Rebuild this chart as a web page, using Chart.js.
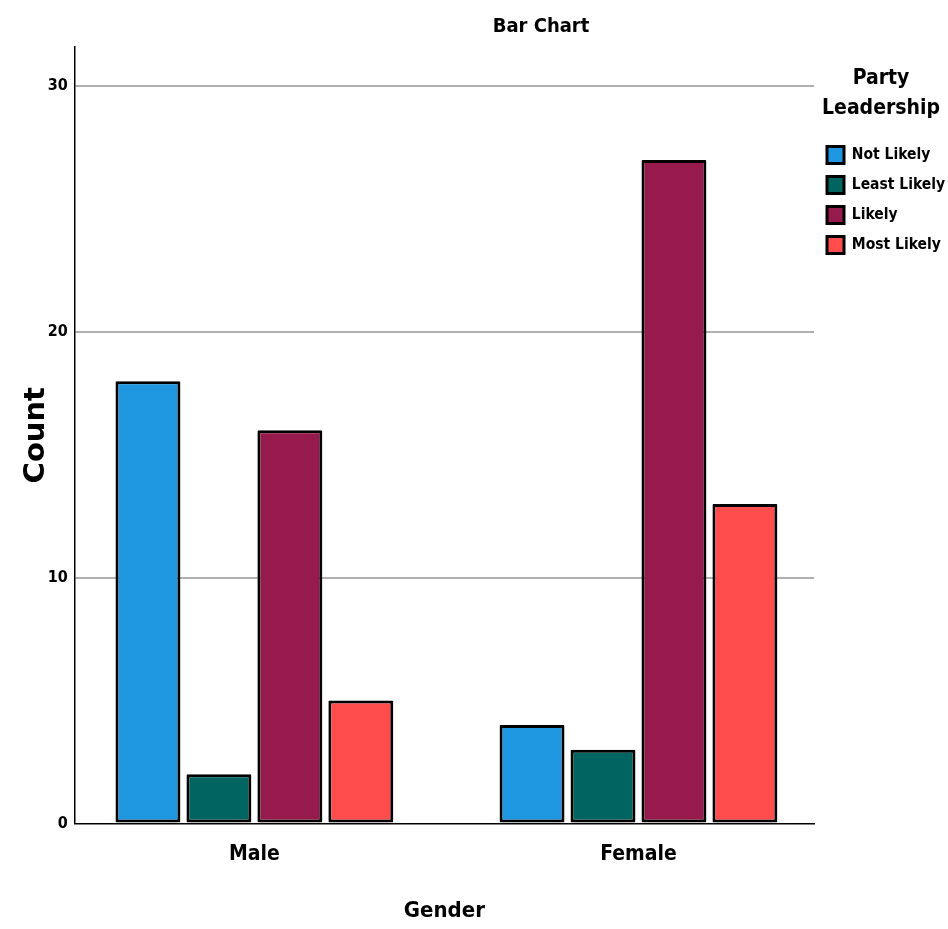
<!DOCTYPE html>
<html>
<head>
<meta charset="utf-8">
<script src="https://cdn.jsdelivr.net/npm/chart.js@4"></script>
<style>
  html, body { margin: 0; padding: 0; background: #fff; }
  #wrap { width: 948px; height: 929px; }
</style>
</head>
<body>
<div id="wrap"><canvas id="barChart" width="948" height="929"></canvas></div>
<script>
const genders = ["Male", "Female"];
const notLikely = [18, 4];
const leastLikely = [2, 3];
const likely = [16, 27];
const mostLikely = [5, 13];
const yTicks = [0, 10, 20, 30];

const condensed = "'DejaVu Sans Condensed', 'Liberation Sans Narrow', 'DejaVu Sans', sans-serif";

// chart title sits right of the plot centre in the original, so draw it ourselves
const titlePlugin = {
    id: 'spssTitle',
    afterDraw(chart) {
        const ctx = chart.ctx;
        ctx.save();
        ctx.font = "bold 20px " + condensed;
        ctx.fillStyle = '#000';
        ctx.textAlign = 'center';
        ctx.textBaseline = 'middle';
        ctx.fillText('Bar Chart', 541, 27);
        ctx.restore();
    }
};

function bar(label, values, color) {
    return {
        label: label,
        data: values.map((v, i) => ({ x: i, y: v })),
        backgroundColor: color,
        borderColor: '#000',
        borderWidth: 3,
        borderSkipped: false,
        borderRadius: 1,
        categoryPercentage: 0.739,
        barPercentage: 0.915
    };
}

new Chart(document.getElementById('barChart'), {
    type: 'bar',
    data: {
        datasets: [
            bar('Not Likely', notLikely, '#1e96e0'),
            bar('Least Likely', leastLikely, '#006460'),
            bar('Likely', likely, '#961a4c'),
            bar('Most Likely', mostLikely, '#ff4c4c')
        ]
    },
    options: {
        responsive: false,
        animation: false,
        layout: { padding: { top: 47, bottom: 5, left: 0, right: 0 } },
        plugins: {
            tooltip: { enabled: false },
            legend: {
                position: 'right',
                align: 'start',
                maxWidth: 134,
                title: {
                    display: true,
                    text: ['Party', 'Leadership'],
                    color: '#000',
                    font: { family: condensed, size: 21, weight: 'bold', lineHeight: 1.45 },
                    padding: { top: 21, bottom: 35 }
                },
                labels: {
                    color: '#000',
                    boxWidth: 17,
                    boxHeight: 17,
                    padding: 13,
                    font: { family: condensed, size: 15.5, weight: 'bold' }
                }
            }
        },
        scales: {
            x: {
                type: 'linear',
                offset: false,
                min: -0.4675,
                max: 1.457,
                grid: { display: false, drawTicks: false, offset: false },
                border: { color: '#000', width: 1.5 },
                afterBuildTicks: scale => { scale.ticks = genders.map((g, i) => ({ value: i })); },
                ticks: {
                    color: '#000',
                    padding: 19,
                    callback: v => genders[v],
                    font: { family: condensed, size: 21, weight: 'bold' }
                },
                title: {
                    display: true,
                    text: 'Gender',
                    color: '#000',
                    font: { family: condensed, size: 22, weight: 'bold' },
                    padding: { top: 11, bottom: 0 }
                }
            },
            y: {
                min: 0,
                max: 31.6,
                grid: {
                    drawTicks: false,
                    lineWidth: 2,
                    color: ctx => ctx.tick && ctx.tick.value === 0 ? 'rgba(0,0,0,0)' : '#b0b0b0'
                },
                border: { color: '#000', width: 1.5 },
                afterBuildTicks: scale => { scale.ticks = yTicks.map(v => ({ value: v })); },
                ticks: {
                    color: '#000',
                    padding: 7,
                    font: { family: condensed, size: 16, weight: 'bold' }
                },
                title: {
                    display: true,
                    text: 'Count',
                    color: '#000',
                    font: { family: "'DejaVu Sans', sans-serif", size: 29, weight: 'bold' },
                    padding: { top: 19, bottom: -13 }
                }
            }
        }
    },
    plugins: [titlePlugin]
});
</script>
</body>
</html>
